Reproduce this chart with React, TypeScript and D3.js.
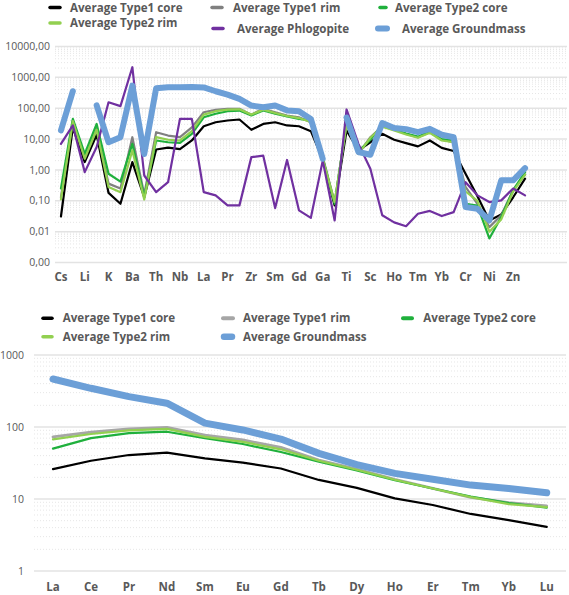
import React from "react";
import * as d3 from "d3";

// ---------- DATA ----------
const topElements = [
  "Cs", "Rb", "Li", "Be", "K", "Sr", "Ba", "Pb", "Th", "U",
  "Nb", "Ta", "La", "Ce", "Pr", "Nd", "Zr", "Hf", "Sm", "Eu",
  "Gd", "Tb", "Ga", "Ge", "Ti", "V", "Sc", "Dy", "Ho", "Er",
  "Tm", "Y", "Yb", "Lu", "Cr", "Co", "Ni", "Cu", "Zn", "Mn",
];
const topType1Core = [0.031, 24, 1.8, 13.8, 0.18, 0.08, 1.8, 0.13, 4.6, 5.3, 4.7, 9, 26, 35, 40, 43, 20, 31, 35, 27.6, 26, 18, 2.2, 0.071, 19, 4.3, 7.9, 14.8, 9.5, 7.4, 5.8, 9, 5.2, 4.1, 0.75, 0.14, 0.023, 0.036, 0.13, 0.52];
const topType1Rim = [0.13, 40, 2.6, 21.5, 0.36, 0.25, 11.5, 0.16, 16.7, 13, 11.5, 24, 74, 89, 96, 96, 62, 96, 74, 58, 51, 35, 2.6, 0.09, 31, 3.3, 11.5, 26, 20, 14.8, 11.5, 16.7, 9.5, 7.9, 0.28, 0.08, 0.014, 0.034, 0.22, 0.7];
const topType2Core = [0.25, 45, 3.3, 31, 0.75, 0.42, 7, 0.13, 9, 7.9, 7.5, 14.8, 51, 66, 80, 84, 58, 84, 66, 54, 45, 40, 2.4, 0.08, 35, 4, 9.5, 28, 20, 15, 12, 18, 10, 9, 0.08, 0.07, 0.006, 0.03, 0.22, 0.85];
const topType2Rim = [0.11, 38, 2.3, 20, 0.28, 0.19, 4.3, 0.11, 11.5, 9.5, 9, 18, 62, 80, 90, 92, 62, 90, 70, 56, 48, 36, 2.3, 0.09, 30, 3.3, 11, 25, 19, 14, 11, 16, 9, 8, 0.2, 0.1, 0.01, 0.025, 0.2, 0.7];
const topPhlogopite = [7, 27.6, 0.85, 5.5, 156, 117, 2130, 0.66, 0.19, 0.4, 45, 45, 0.19, 0.15, 0.071, 0.071, 2.6, 2.9, 0.058, 2.1, 0.049, 0.028, 2.0, 0.023, 91, 7, 1.1, 0.034, 0.02, 0.015, 0.038, 0.047, 0.032, 0.043, 0.4, 0.15, 0.091, 0.103, 0.25, 0.15];
const topGroundmass = [19, 355, null, 123, 7.9, 11.5, 540, 3.3, 445, 480, 480, 490, 470, 355, 277, 200, 122, 108, 122, 85, 80, 45, 2.3, null, 50, 3.8, 3.1, 33, 23, 21, 16.7, 21.5, 13.8, 11.5, 0.063, 0.055, 0.023, 0.46, 0.46, 1.14];
const topTicks = [0.001, 0.01, 0.1, 1, 10, 100, 1000, 10000];

const reeElements = ["La", "Ce", "Pr", "Nd", "Sm", "Eu", "Gd", "Tb", "Dy", "Ho", "Er", "Tm", "Yb", "Lu"];
const reeType1Core = [26, 34, 40.8, 44, 36.7, 32, 26.5, 18.4, 14.3, 10.2, 8.25, 6.2, 5.1, 4.1];
const reeType1Rim = [73, 85, 94, 99, 77, 66, 52, 34.8, 26, 18.8, 14, 10.5, 8.9, 8.0];
const reeType2Core = [50, 70, 82, 86, 70, 58, 45, 33, 25, 18.2, 14, 10.8, 8.8, 7.6];
const reeType2Rim = [67.5, 80, 90, 94, 73, 62, 49, 34, 25.5, 18.5, 14, 10.6, 8.5, 7.7];
const reeGroundmass = [464, 345, 264, 214, 113, 91, 68, 43, 30, 22.7, 18.8, 15.6, 14, 12.2];
const reeTicks = [1, 10, 100, 1000];

// ---------- STYLE ----------
const C = {
  black: "#000000",
  grayTop: "#808080",
  grayBottom: "#a6a6a6",
  green: "#1fb03c",
  lime: "#92d050",
  purple: "#7030a0",
  blue: "#6c9fd7",
  text: "#595959",
  grid: "#e3e3e3",
  minor: "#e6e6e6",
};
const FONT = "'Open Sans', 'DejaVu Sans', sans-serif";

type Series = { name: string; values: (number | null)[]; color: string; width: number };

function LegendItem({ x, y, tx, ty, color, width, label, mw }: any) {
  return (
    <g>
      <line x1={x} x2={x + mw} y1={y} y2={y} stroke={color} strokeWidth={width} strokeLinecap="round" />
      <text x={tx} y={ty} dy="0.35em" fill={C.text} fontFamily={FONT} fontWeight={700} fontSize={11.6}>
        {label}
      </text>
    </g>
  );
}

function LogChart({
  cats, series, ticks, x0, x1, xData1, yTop, yBottom, domain, fmt, labelX, catY, labelEvery,
}: any) {
  const x = d3.scaleBand<number>().domain(d3.range(cats.length)).range([x0, xData1]);
  const cx = (i: number) => (x(i) as number) + x.bandwidth() / 2;
  const y = d3.scaleLog().domain(domain).range([yBottom, yTop]);
  const minor = y.ticks().filter((t) => !ticks.includes(t));
  const line = d3
    .line<number | null>()
    .defined((d) => d != null)
    .x((_, i) => cx(i))
    .y((d) => y(d as number));
  return (
    <g>
      {minor.map((t: number, i: number) => (
        <line key={"m" + i} x1={x0} x2={x1} y1={y(t)} y2={y(t)} stroke={C.minor} strokeWidth={1} strokeDasharray="1 2" />
      ))}
      {ticks.map((t: number) => (
        <g key={t}>
          <line x1={x0} x2={x1} y1={y(t)} y2={y(t)} stroke={C.grid} strokeWidth={1.5} />
          <text x={labelX} y={y(t)} dy="0.35em" textAnchor="end" fill={C.text} fontFamily={FONT} fontSize={10.5}>
            {fmt(t)}
          </text>
        </g>
      ))}
      {cats.map((c: string, i: number) =>
        i % labelEvery === 0 ? (
          <text key={i} x={cx(i)} y={catY} dy="0.35em" textAnchor="middle" fill={C.text} fontFamily={FONT} fontWeight={700} fontSize={11.5}>
            {c}
          </text>
        ) : null
      )}
      {series.map((s: Series) => (
        <path key={s.name} d={line(s.values) || ""} fill="none" stroke={s.color} strokeWidth={s.width} strokeLinejoin="round" strokeLinecap="round" />
      ))}
    </g>
  );
}

export default function App() {
  const topSeries: Series[] = [
    { name: "Average Type1 core", values: topType1Core, color: C.black, width: 2.2 },
    { name: "Average Type1 rim", values: topType1Rim, color: C.grayTop, width: 2.2 },
    { name: "Average Type2 core", values: topType2Core, color: C.green, width: 2.2 },
    { name: "Average Type2 rim", values: topType2Rim, color: C.lime, width: 2.2 },
    { name: "Average Phlogopite", values: topPhlogopite, color: C.purple, width: 2.2 },
    { name: "Average Groundmass", values: topGroundmass, color: C.blue, width: 6 },
  ];
  const reeSeries: Series[] = [
    { name: "Average Type1 core", values: reeType1Core, color: C.black, width: 2.2 },
    { name: "Average Type1 rim", values: reeType1Rim, color: C.grayBottom, width: 2.8 },
    { name: "Average Type2 core", values: reeType2Core, color: C.green, width: 2.2 },
    { name: "Average Type2 rim", values: reeType2Rim, color: C.lime, width: 2.2 },
    { name: "Average Groundmass", values: reeGroundmass, color: C.blue, width: 7 },
  ];
  const fmtTop = (t: number) => d3.format(".2f")(t).replace(".", ",");
  const fmtBottom = (t: number) => String(t);

  return (
    <svg width={569} height={595} style={{ position: "absolute", left: 0, top: 0, background: "#fff" }}>
      <rect width={569} height={595} fill="#fff" />
      {/* top legend */}
      <LegendItem x={50} y={7.5} mw={10} tx={70} ty={7.5} color={C.black} width={3.5} label={topSeries[0].name} />
      <LegendItem x={212} y={7.5} mw={10} tx={233} ty={7.5} color={C.grayTop} width={3.5} label={topSeries[1].name} />
      <LegendItem x={380} y={7.5} mw={6} tx={395} ty={7.5} color={C.green} width={3.5} label={topSeries[2].name} />
      <LegendItem x={50} y={23} mw={10} tx={70} ty={23} color={C.lime} width={3.5} label={topSeries[3].name} />
      <LegendItem x={213} y={28.5} mw={10} tx={237} ty={28.5} color={C.purple} width={3.5} label={topSeries[4].name} />
      <LegendItem x={378} y={28.5} mw={9} tx={402} ty={28.5} color={C.blue} width={6} label={topSeries[5].name} />
      <LogChart
        cats={topElements}
        series={topSeries}
        ticks={topTicks}
        x0={55}
        x1={567}
        xData1={55 + 40 * 11.9}
        yTop={46.5}
        yBottom={262.5}
        domain={[0.001, 10000]}
        fmt={fmtTop}
        labelX={50}
        catY={277}
        labelEvery={2}
      />
      {/* bottom legend */}
      <LegendItem x={43} y={318.3} mw={9} tx={62.7} ty={318.3} color={C.black} width={3.5} label={reeSeries[0].name} />
      <LegendItem x={223} y={318.3} mw={10} tx={243} ty={318.3} color={C.grayBottom} width={4} label={reeSeries[1].name} />
      <LegendItem x={403} y={318.3} mw={9} tx={423.3} ty={318.3} color={C.green} width={4} label={reeSeries[2].name} />
      <LegendItem x={43} y={336.7} mw={9} tx={62.7} ty={336.7} color={C.lime} width={3.5} label={reeSeries[3].name} />
      <LegendItem x={224} y={336.7} mw={8} tx={243} ty={336.7} color={C.blue} width={6.5} label={reeSeries[4].name} />
      <LogChart
        cats={reeElements}
        series={reeSeries}
        ticks={reeTicks}
        x0={34}
        x1={566}
        xData1={34 + 14 * 37.98}
        yTop={355}
        yBottom={571}
        domain={[1, 1000]}
        fmt={fmtBottom}
        labelX={24}
        catY={587}
        labelEvery={1}
      />
    </svg>
  );
}
